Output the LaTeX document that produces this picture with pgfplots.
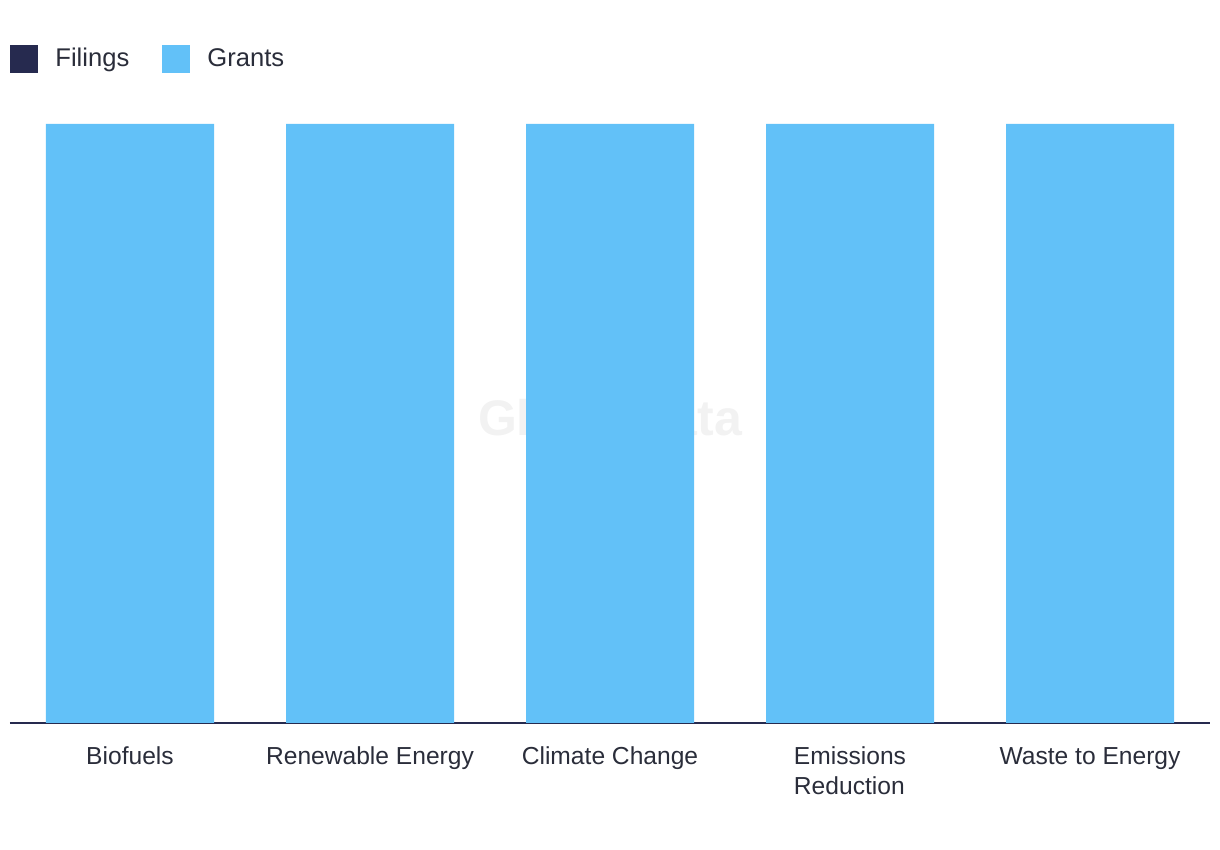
\documentclass[border=0pt]{standalone}
\usepackage{pgfplots}
\pgfplotsset{compat=1.18}
\usepackage{fontspec}
\setmainfont{Liberation Sans}
\definecolor{filings}{HTML}{262A4F}
\definecolor{grants}{HTML}{62C1F8}
\definecolor{txt}{HTML}{2A2D3A}
\begin{document}
\begin{tikzpicture}
\begin{axis}[
  scale only axis,
  width=600pt, height=299.5pt,
  ybar stacked,
  bar width=0.7,
  xmin=-0.5, xmax=4.5,
  ymin=0, ymax=100,
  axis x line=bottom,
  axis y line=none,
  axis line style={draw=filings, line width=1pt, -},
  xtick=data,
  xticklabels={\strut Biofuels, \strut Renewable Energy, \strut Climate Change, {\strut Emissions\\Reduction}, \strut Waste to Energy},
  x tick label style={font=\fontsize{12.3}{15}\selectfont, text=txt, align=left, anchor=north, yshift=-6.5pt},
  major tick length=0pt,
  legend style={at={([yshift=32.5pt]rel axis cs:0,1)}, anchor=west, draw=none, fill=none, inner sep=0pt,
    font=\fontsize{12.8}{14}\selectfont, text=txt, column sep=6.5pt,
    /tikz/every even column/.append style={column sep=14.5pt}},
  legend columns=2,
  legend cell align=left,
  legend image code/.code={\fill[#1] (0pt,-7pt) rectangle (14pt,7pt);},
  clip=false,
]
\addplot[fill=filings, draw=none] coordinates {(0,0) (1,0) (2,0) (3,0) (4,0)};
\addlegendentry{Filings}
\addplot[fill=grants, draw=none] coordinates {(0,100) (1,100) (2,100) (3,100) (4,100)};
\addlegendentry{Grants}
\node[font=\bfseries\fontsize{25}{27}\selectfont, text=black, opacity=0.05] at (rel axis cs:0.5,0.51) {GlobalData};
\end{axis}
\useasboundingbox (-5pt,-63.5pt) rectangle (605pt,361.5pt);
\end{tikzpicture}
\end{document}
